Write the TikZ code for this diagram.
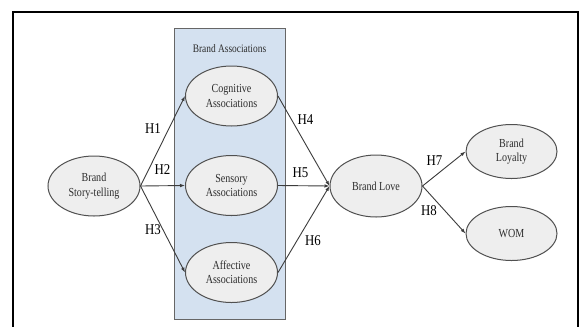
\documentclass[tikz,border=0pt]{standalone}
\usepackage{fontspec}
\usetikzlibrary{shapes.geometric,arrows.meta}
\newfontfamily\elfont[FakeStretch=0.82]{Liberation Serif}
\newfontfamily\hfont[FakeStretch=0.86]{Liberation Serif}
\definecolor{boxblue}{RGB}{212,225,240}
\definecolor{elfill}{RGB}{238,238,238}
\definecolor{eledge}{RGB}{80,80,80}
\definecolor{eltext}{RGB}{45,45,45}
\definecolor{arr}{RGB}{60,60,60}
\tikzset{
  construct/.style={ellipse, draw=eledge, line width=1bp, fill=elfill, inner sep=0pt,
    minimum width=92bp, minimum height=60bp, align=center, text=eltext,
    font=\elfont\fontsize{12.3}{14.5}\selectfont},
  smallcon/.style={construct, minimum width=91bp, minimum height=54bp},
  hyp/.style={font=\hfont\fontsize{15}{17}\selectfont, text=black, inner sep=0pt},
  link/.style={draw=arr, line width=0.9bp, -{Latex[length=5bp,width=3.6bp]}},
}
\begin{document}
\begin{tikzpicture}[x=1bp,y=-1bp]
\useasboundingbox (0,0) rectangle (582,326);
\fill[white] (0,0) rectangle (582,326);
% outer frame
\draw[line width=2bp, line cap=rect] (12.5,326) -- (12.5,12) -- (577.5,12) -- (577.5,326);
% brand associations box
\node[draw=black!60, line width=0.9bp, fill=boxblue, minimum width=111bp, minimum height=291bp, inner sep=0pt] (box) at (229.5,173.5) {};
\node[font=\elfont\fontsize{11.5}{13}\selectfont, text=eltext, inner sep=0pt] (title) at (229.5,49) {Brand Associations};
% constructs
\node[construct] (bs) at (94,186) {Brand\\Story-telling};
\node[construct] (cog) at (231.5,96) {Cognitive\\Associations};
\node[construct] (sen) at (231.5,185.5) {Sensory\\Associations};
\node[construct] (aff) at (231.5,272.5) {Affective\\Associations};
\node[construct, minimum height=62bp] (love) at (376,186) {Brand Love};
\node[smallcon] (loy) at (511.5,151.5) {Brand\\Loyalty};
\node[smallcon] (wom) at (511.5,233.5) {WOM};
% connectors
\draw[link] (bs.east) -- (cog.west);
\draw[link] (bs.east) -- (sen.west);
\draw[link] (bs.east) -- (aff.west);
\draw[link] (cog.east) -- (love.west);
\draw[link] (sen.east) -- (love.west);
\draw[link] (aff.east) -- (love.west);
\draw[link] (love.east) -- (loy.west);
\draw[link] (love.east) -- (wom.west);
% hypothesis labels
\node[hyp] (h1) at (153,129) {H1};
\node[hyp] (h2) at (162.5,169.5) {H2};
\node[hyp] (h3) at (153,229.5) {H3};
\node[hyp] (h4) at (305.5,119.5) {H4};
\node[hyp] (h5) at (300.5,172.5) {H5};
\node[hyp] (h6) at (313,240.5) {H6};
\node[hyp] (h7) at (434.5,160.5) {H7};
\node[hyp] (h8) at (429,210.5) {H8};
\end{tikzpicture}
\end{document}
